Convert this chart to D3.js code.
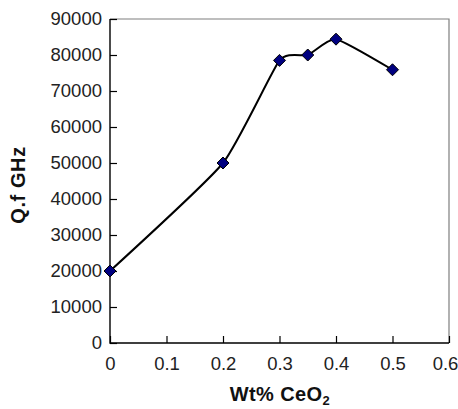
<!DOCTYPE html>
<html><head><meta charset="utf-8">
<script src="https://cdn.jsdelivr.net/npm/d3@7"></script>
<style>body{margin:0;background:#fff}svg{display:block}text{font-family:"Liberation Sans",Arial,sans-serif}</style>
</head><body><svg id="c" width="458" height="409"></svg>
<script>
const wtPct = [0, 0.2, 0.3, 0.35, 0.4, 0.5];
const qf = [20000, 50000, 78500, 80000, 84400, 75900];
const xTicks = [0, 0.1, 0.2, 0.3, 0.4, 0.5, 0.6];
const yTicks = [0, 10000, 20000, 30000, 40000, 50000, 60000, 70000, 80000, 90000];

const svg = d3.select("#c");
const L = 110, R = 449, T = 19, B = 343;
const x = d3.scaleLinear().domain([0, 0.6]).range([L, R]);
const y = d3.scaleLinear().domain([0, 90000]).range([B, T]);

svg.append("path").attr("d", `M${L},${T}H${R}V${B}`).attr("fill","none").attr("stroke","#7f7f7f").attr("stroke-width",1.2);

const yAxis = svg.append("g").attr("transform", `translate(${L},0)`)
  .call(d3.axisRight(y).tickValues(yTicks).tickSize(7).tickFormat(d3.format("d")));
yAxis.select(".domain").remove();
yAxis.selectAll("text").attr("x", -8).attr("text-anchor","end").attr("font-size",18.5).attr("fill","#222");
yAxis.selectAll("line").attr("stroke","#000").attr("stroke-width",1.2);

const xAxis = svg.append("g").attr("transform", `translate(0,${B})`)
  .call(d3.axisTop(x).tickValues(xTicks).tickSize(7).tickFormat(d => d === 0 ? "0" : d3.format(".1f")(d)));
xAxis.select(".domain").remove();
xAxis.selectAll("text").attr("y", 27).attr("dy", 0).attr("font-size",18.5).attr("fill","#222")
  .attr("dx", d => d === 0.6 ? -4 : 0);
xAxis.selectAll("line").attr("stroke","#000").attr("stroke-width",1.2);

svg.append("path").attr("d", `M${L},${T}V${B}H${R}`).attr("fill","none").attr("stroke","#000").attr("stroke-width",1.4);

const data = wtPct.map((d,i) => [d, qf[i]]);
svg.append("path").datum(data)
  .attr("d", d3.line().x(d => x(d[0])).y(d => y(d[1])).curve(d3.curveCardinal.tension(0.5)))
  .attr("fill","none").attr("stroke","#000").attr("stroke-width",2);

svg.selectAll(".m").data(data).enter().append("path")
  .attr("transform", d => `translate(${x(d[0])},${y(d[1])})`)
  .attr("d", "M0,-6L6,0L0,6L-6,0Z")
  .attr("fill","#000080").attr("stroke","#000").attr("stroke-width",1);

const xl = svg.append("text").attr("x", 280).attr("y", 401).attr("text-anchor","middle")
  .attr("font-size",20).attr("font-weight","bold").attr("fill","#111").attr("letter-spacing",0.4);
xl.append("tspan").text("Wt% CeO");
xl.append("tspan").attr("font-size",13).attr("dy",4).text("2");

svg.append("text").attr("transform","translate(25,185) rotate(-90)").attr("text-anchor","middle")
  .attr("font-size",20).attr("font-weight","bold").attr("fill","#111").attr("letter-spacing",0.6).text("Q.f GHz");
</script></body></html>
